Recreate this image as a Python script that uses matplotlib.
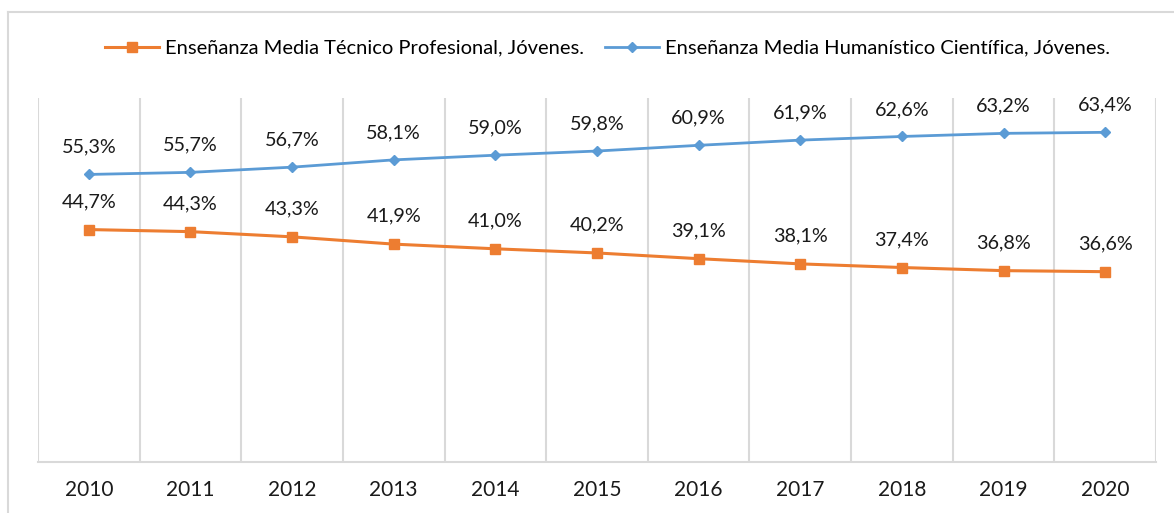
import matplotlib
matplotlib.use("Agg")
import matplotlib.pyplot as plt
from matplotlib.lines import Line2D
from matplotlib.ticker import FixedLocator

years = ["2010", "2011", "2012", "2013", "2014", "2015", "2016", "2017", "2018", "2019", "2020"]
tecnico = [44.7, 44.3, 43.3, 41.9, 41.0, 40.2, 39.1, 38.1, 37.4, 36.8, 36.6]
humanistico = [55.3, 55.7, 56.7, 58.1, 59.0, 59.8, 60.9, 61.9, 62.6, 63.2, 63.4]
name_tec = "Enseñanza Media Técnico Profesional, Jóvenes."
name_hum = "Enseñanza Media Humanístico Científica, Jóvenes."

plt.rcParams['font.family'] = ['Lato', 'DejaVu Sans']

W, H = 1174, 513
fig = plt.figure(figsize=(W / 100, H / 100), dpi=100)
fig.patch.set_facecolor("white")

# outer chart border (partially cropped)
fig.add_artist(Line2D([8 / W, 8 / W], [0, 1 - 12 / H], transform=fig.transFigure, color="#d9d9d9", lw=1.5))
fig.add_artist(Line2D([8 / W, 1], [1 - 12 / H, 1 - 12 / H], transform=fig.transFigure, color="#d9d9d9", lw=1.5))

ax = fig.add_axes([38 / W, (H - 462) / H, (1156 - 38) / W, (462 - 98) / H])
x = list(range(len(years)))

orange = "#ED7D31"
blue = "#5B9BD5"
l1, = ax.plot(x, tecnico, color=orange, lw=2.2, marker="s", markersize=7, label=name_tec, zorder=3)
l2, = ax.plot(x, humanistico, color=blue, lw=2.0, marker="D", markersize=5.5, label=name_hum, zorder=3)

for xi, v in zip(x, tecnico):
    ax.annotate(f"{v:.1f}%".replace(".", ","), (xi, v), xytext=(0, 20), textcoords="offset points",
                ha="center", va="center", fontsize=14.2, color="#1a1a1a")
for xi, v in zip(x, humanistico):
    ax.annotate(f"{v:.1f}%".replace(".", ","), (xi, v), xytext=(0, 19.5), textcoords="offset points",
                ha="center", va="center", fontsize=14.2, color="#1a1a1a")

ax.set_xlim(-0.5, len(years) - 0.5)
ax.set_ylim(0, 70)
ax.set_xticks(x)
ax.set_xticklabels(years, fontsize=15)
ax.tick_params(axis="x", length=0, pad=13, colors="#1a1a1a")
ax.set_yticks([])
ax.xaxis.set_minor_locator(FixedLocator([i - 0.5 for i in range(len(years) + 1)]))
ax.tick_params(axis="x", which="minor", length=0)
ax.grid(axis="x", which="minor", color="#d9d9d9", lw=1.5)
ax.grid(axis="x", which="major", visible=False)
for s in ["top", "left", "right"]:
    ax.spines[s].set_visible(False)
ax.spines["bottom"].set_color("#d9d9d9")
ax.spines["bottom"].set_linewidth(1.5)

fig.legend(handles=[l1, l2], loc="center", bbox_to_anchor=(607.5 / W, 1 - 48 / H), ncol=2, frameon=False,
           fontsize=14.5, handlelength=2.7, columnspacing=1.05, handletextpad=0.3)

fig.savefig("out.png", dpi=100)
